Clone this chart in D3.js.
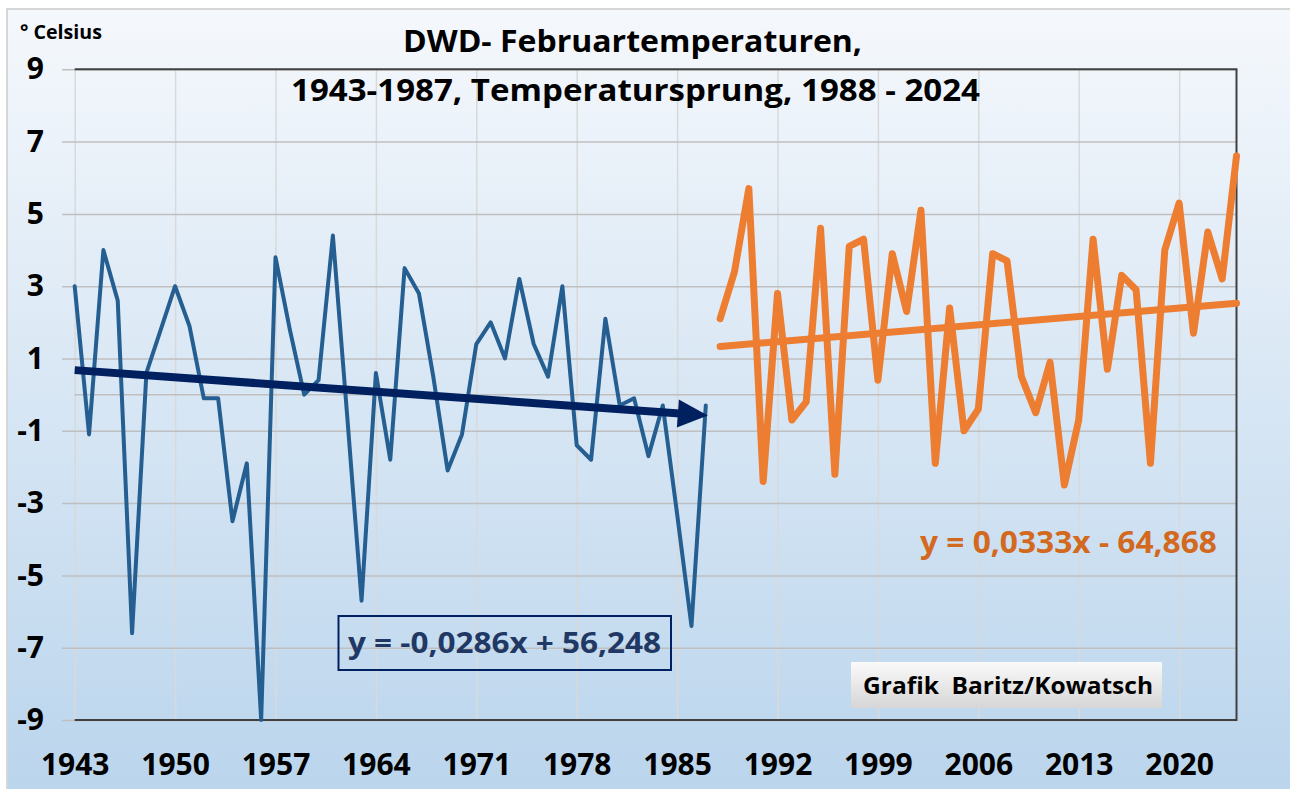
<!DOCTYPE html>
<html>
<head>
<meta charset="utf-8">
<script src="https://cdn.jsdelivr.net/npm/d3@7"></script>
<style>
  html, body { margin: 0; padding: 0; background: #fff; }
  svg { display: block; font-family: "Open Sans", "Noto Sans", sans-serif; font-weight: bold; }
</style>
</head>
<body>
<div id="chart"></div>
<script>
// Februar-Mitteltemperaturen (DWD)
const blueYears = d3.range(1943, 1988);
const blueTemps = [
  3.0, -1.1, 4.0, 2.6, -6.6, 0.6, 1.8, 3.0, 1.9, -0.1,
  -0.1, -3.5, -1.9, -9.0, 3.8, 1.8, 0.0, 0.4, 4.4, -0.6,
  -5.7, 0.6, -1.8, 3.5, 2.8, 0.5, -2.1, -1.1, 1.4, 2.0,
  1.0, 3.2, 1.4, 0.5, 3.0, -1.4, -1.8, 2.1, -0.3, -0.1,
  -1.7, -0.3, -3.3, -6.4, -0.3,
];
const orangeYears = d3.range(1988, 2025);
const orangeTemps = [
  2.1, 3.4, 5.7, -2.4, 2.8, -0.7, -0.2, 4.6, -2.2, 4.1,
  4.3, 0.4, 3.9, 2.3, 5.1, -1.9, 2.4, -1.0, -0.4, 3.9,
  3.7, 0.5, -0.5, 0.9, -2.5, -0.7, 4.3, 0.7, 3.3, 2.9,
  -1.9, 4.0, 5.3, 1.7, 4.5, 3.2, 6.6,
];
const xTickYears = [1943, 1950, 1957, 1964, 1971, 1978, 1985, 1992, 1999, 2006, 2013, 2020];
const yTickValues = [-9, -7, -5, -3, -1, 1, 3, 5, 7, 9];
const blueTrend = [-0.0286, 56.248]; // slope, intercept
const orangeTrend = [0.0333, -64.868];

const width = 1290, height = 789;
const plotLeft = 74.7, plotRight = 1236.5, plotTop = 69.3, plotBottom = 720;

const svg = d3.select("#chart").append("svg")
  .attr("width", width).attr("height", height);

const defs = svg.append("defs");
const bg = defs.append("linearGradient").attr("id", "bg")
  .attr("x1", 0).attr("y1", 0).attr("x2", 0).attr("y2", 1);
bg.append("stop").attr("offset", "0%").attr("stop-color", "#f5f8fc");
bg.append("stop").attr("offset", "100%").attr("stop-color", "#b9d4ec");
const box = defs.append("linearGradient").attr("id", "box")
  .attr("x1", 0).attr("y1", 0).attr("x2", 0).attr("y2", 1);
box.append("stop").attr("offset", "0%").attr("stop-color", "#fafafa");
box.append("stop").attr("offset", "100%").attr("stop-color", "#d6d6d6");

svg.append("rect")
  .attr("x", 7).attr("y", 9).attr("width", 1290).attr("height", 800)
  .attr("fill", "url(#bg)").attr("stroke", "#d6d6d6").attr("stroke-width", 2);

const x = d3.scaleLinear().domain([1943, 2024]).range([plotLeft, plotRight]);
const y = d3.scaleLinear().domain([-9, 9]).range([plotBottom, plotTop]);

// x axis with vertical gridlines
const xAxis = svg.append("g")
  .attr("transform", `translate(0,${plotBottom})`)
  .call(d3.axisBottom(x).tickValues(xTickYears).tickFormat(d3.format("d"))
    .tickSize(-(plotBottom - plotTop)).tickPadding(34));
xAxis.select(".domain").remove();
xAxis.selectAll("line").attr("stroke", "#d9d9d9").attr("stroke-width", 1.5);
xAxis.selectAll("text").attr("font-size", "30px").attr("fill", "#000");
xAxis.attr("font-family", null).attr("font-size", null);

// y axis with horizontal gridlines
const yAxis = svg.append("g")
  .attr("transform", "translate(62,0)")
  .call(d3.axisLeft(y).tickValues(yTickValues).tickFormat((d) => String(d))
    .tickSize(-(plotRight - 62)).tickPadding(18));
yAxis.select(".domain").remove();
yAxis.selectAll("line").attr("stroke", "#bfbfbf").attr("stroke-width", 1.5);
yAxis.selectAll("text").attr("font-size", "30px").attr("fill", "#000");
yAxis.attr("font-family", null).attr("font-size", null);

// zero line
svg.append("line")
  .attr("x1", plotLeft).attr("x2", plotRight).attr("y1", y(0)).attr("y2", y(0))
  .attr("stroke", "#bfbfbf").attr("stroke-width", 1.5);

// plot frame (top, right, bottom)
svg.append("path")
  .attr("d", `M${plotLeft},${plotTop}H${plotRight}V${plotBottom}H${plotLeft}`)
  .attr("fill", "none").attr("stroke", "#404040").attr("stroke-width", 2);

const line = d3.line().x((d) => x(d[0])).y((d) => y(d[1]));

svg.append("path")
  .datum(blueYears.map((yr, i) => [yr, blueTemps[i]]))
  .attr("d", line)
  .attr("fill", "none").attr("stroke", "#255e91").attr("stroke-width", 4)
  .attr("stroke-linejoin", "round").attr("stroke-linecap", "round");

svg.append("path")
  .datum(orangeYears.map((yr, i) => [yr, orangeTemps[i]]))
  .attr("d", line)
  .attr("fill", "none").attr("stroke", "#ed7d31").attr("stroke-width", 7)
  .attr("stroke-linejoin", "round").attr("stroke-linecap", "round");

// orange trend
const oy0 = orangeYears[0], oy1 = orangeYears[orangeYears.length - 1];
svg.append("path")
  .datum([[oy0, orangeTrend[0] * oy0 + orangeTrend[1]], [oy1, orangeTrend[0] * oy1 + orangeTrend[1]]])
  .attr("d", line)
  .attr("fill", "none").attr("stroke", "#ed7d31").attr("stroke-width", 7)
  .attr("stroke-linecap", "round");

// blue trend with arrow head
const by0 = blueYears[0], by1 = blueYears[blueYears.length - 1];
const p0 = [x(by0), y(blueTrend[0] * by0 + blueTrend[1])];
const p1 = [x(by1) + 2, y(blueTrend[0] * by1 + blueTrend[1])];
const ang = Math.atan2(p1[1] - p0[1], p1[0] - p0[0]);
const headLen = 30, headHalf = 14;
const base = [p1[0] - headLen * Math.cos(ang), p1[1] - headLen * Math.sin(ang)];
svg.append("line")
  .attr("x1", p0[0]).attr("y1", p0[1]).attr("x2", base[0] + 2).attr("y2", base[1])
  .attr("stroke", "#002060").attr("stroke-width", 8);
svg.append("polygon")
  .attr("points", [
    p1,
    [base[0] - headHalf * Math.sin(ang), base[1] + headHalf * Math.cos(ang)],
    [base[0] + headHalf * Math.sin(ang), base[1] - headHalf * Math.cos(ang)],
  ].map((p) => p.join(",")).join(" "))
  .attr("fill", "#002060");

// titles
svg.append("text").attr("x", 403).attr("y", 52)
  .attr("font-size", "30px").attr("textLength", 459).attr("lengthAdjust", "spacingAndGlyphs")
  .text("DWD- Februartemperaturen,");
svg.append("text").attr("x", 291).attr("y", 101)
  .attr("font-size", "30px").attr("textLength", 689).attr("lengthAdjust", "spacingAndGlyphs")
  .text("1943-1987, Temperatursprung, 1988 - 2024");
svg.append("text").attr("x", 20).attr("y", 39)
  .attr("font-size", "19px").attr("textLength", 82).attr("lengthAdjust", "spacingAndGlyphs")
  .text("° Celsius");

// equations
svg.append("rect")
  .attr("x", 338.5).attr("y", 616).attr("width", 332.5).attr("height", 54)
  .attr("fill", "none").attr("stroke", "#002060").attr("stroke-width", 2);
svg.append("text").attr("x", 348).attr("y", 653)
  .attr("font-size", "29px").attr("fill", "#1f3864")
  .attr("textLength", 313).attr("lengthAdjust", "spacingAndGlyphs")
  .text("y = -0,0286x + 56,248");
svg.append("text").attr("x", 920).attr("y", 553)
  .attr("font-size", "30px").attr("fill", "#d2691e")
  .attr("textLength", 297).attr("lengthAdjust", "spacingAndGlyphs")
  .text("y = 0,0333x - 64,868");

// credit box
svg.append("rect")
  .attr("x", 851).attr("y", 662).attr("width", 311).attr("height", 46)
  .attr("fill", "url(#box)");
svg.append("text").attr("x", 863).attr("y", 694)
  .attr("font-size", "24px").attr("fill", "#000").style("white-space", "pre")
  .attr("textLength", 290).attr("lengthAdjust", "spacingAndGlyphs")
  .text("Grafik  Baritz/Kowatsch");
</script>
</body>
</html>
